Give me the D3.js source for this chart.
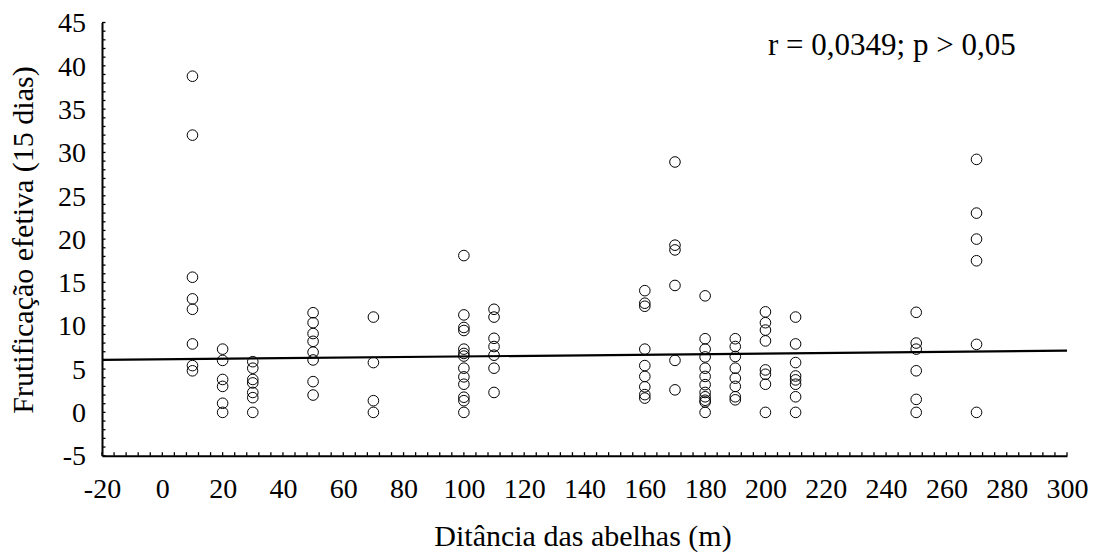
<!DOCTYPE html>
<html>
<head>
<meta charset="utf-8">
<script src="https://cdn.jsdelivr.net/npm/d3@7"></script>
<style>
  html, body { margin: 0; padding: 0; background: #fff; }
  svg { display: block; }
  text { font-family: "Liberation Serif", "Times New Roman", serif; fill: #000; }
</style>
</head>
<body>
<svg id="chart" width="1094" height="559"></svg>
<script>
// ---- data ----
const distances = [10, 20, 30, 50, 70, 100, 110, 160, 170, 180, 190, 200, 210, 250, 270];
const fruitSet = [
  [38.8, 32.0, 15.6, 13.1, 11.9, 7.9, 5.4, 4.8],
  [7.3, 6.0, 3.8, 3.0, 1.05, 0],
  [5.85, 5.1, 3.8, 3.4, 2.3, 1.7, 0],
  [11.5, 10.35, 9.1, 8.2, 6.95, 6.05, 3.55, 2.0],
  [11.0, 5.75, 1.35, 0],
  [18.1, 11.25, 9.8, 9.45, 7.3, 6.8, 6.5, 5.1, 4.1, 3.25, 1.75, 1.35, 0],
  [11.9, 11.0, 8.55, 7.6, 6.6, 5.1, 2.3],
  [14.05, 12.6, 12.25, 7.3, 5.4, 4.15, 2.95, 2.05, 1.65],
  [28.9, 19.3, 18.75, 14.65, 6.0, 2.6],
  [13.45, 8.5, 7.3, 6.4, 5.1, 4.15, 3.2, 2.3, 1.8, 1.4, 1.2, 0],
  [8.5, 7.6, 6.45, 5.1, 3.95, 3.0, 1.8, 1.45],
  [11.6, 10.35, 9.5, 8.25, 4.9, 4.4, 3.25, 0],
  [11.0, 7.9, 5.75, 4.2, 3.75, 3.25, 1.8, 0],
  [11.55, 8.0, 7.3, 4.8, 1.5, 0],
  [29.2, 23.0, 20.0, 17.5, 7.85, 0]
];
const trendIntercept = 6.12;
const trendSlope = 0.00335;
const xTickValues = [-20, 0, 20, 40, 60, 80, 100, 120, 140, 160, 180, 200, 220, 240, 260, 280, 300];
const yTickValues = [-5, 0, 5, 10, 15, 20, 25, 30, 35, 40, 45];
const xTitle = "Ditância das abelhas (m)";
const yTitle = "Frutificação efetiva (15 dias)";
const annotation = "r = 0,0349; p > 0,05";

// ---- layout ----
const FONT = '"Liberation Serif", "Times New Roman", serif';
const svg = d3.select("#chart");
const plotLeft = 102, plotRight = 1067, plotTop = 22.5, plotBottom = 455.7;
const x = d3.scaleLinear().domain([-20, 300]).range([plotLeft, plotRight]);
const y = d3.scaleLinear().domain([-5, 45]).range([plotBottom, plotTop]);

const points = [];
distances.forEach((d, i) => fruitSet[i].forEach(v => points.push({d, v})));

// minor ticks (inside)
const xMinor = d3.range(-20, 300.01, 4);
const yMinor = d3.range(-5, 45.01, 1);
svg.append("g").selectAll("line").data(xMinor).join("line")
  .attr("x1", d => x(d)).attr("x2", d => x(d))
  .attr("y1", plotBottom).attr("y2", plotBottom - 3.5)
  .attr("stroke", "#000").attr("stroke-width", 1.3);
svg.append("g").selectAll("line").data(yMinor).join("line")
  .attr("y1", d => y(d)).attr("y2", d => y(d))
  .attr("x1", plotLeft).attr("x2", plotLeft + 3.5)
  .attr("stroke", "#000").attr("stroke-width", 1.3);

// axes via d3 axis (no tick lines; labels only)
const xAxis = d3.axisBottom(x).tickValues(xTickValues).tickSize(0).tickPadding(0).tickFormat(d => String(d));
const gx = svg.append("g").attr("transform", `translate(0,${plotBottom})`).call(xAxis)
  .attr("font-family", FONT).attr("font-size", 28);
gx.select(".domain").attr("stroke", "#000").attr("stroke-width", 2);
gx.selectAll("text").attr("dy", null).attr("y", 42).style("font-family", FONT).style("font-size", "28px");

const yAxis = d3.axisLeft(y).tickValues(yTickValues).tickSize(0).tickPadding(16).tickFormat(d => String(d));
const gy = svg.append("g").attr("transform", `translate(${plotLeft},0)`).call(yAxis)
  .attr("font-family", FONT).attr("font-size", 28);
gy.select(".domain").attr("stroke", "#000").attr("stroke-width", 2);
gy.selectAll("text").attr("dy", "0.33em").style("font-family", FONT).style("font-size", "28px");

// trend line
const trend = [-20, 300].map(d => ({d, v: trendIntercept + trendSlope * d}));
svg.append("path")
  .datum(trend)
  .attr("d", d3.line().x(p => x(p.d)).y(p => y(p.v)))
  .attr("stroke", "#000").attr("stroke-width", 2.2).attr("fill", "none");

// points
svg.append("g").selectAll("circle").data(points).join("circle")
  .attr("cx", p => x(p.d)).attr("cy", p => y(p.v)).attr("r", 5.3)
  .attr("fill", "none").attr("stroke", "#000").attr("stroke-width", 1);

// titles
svg.append("text").attr("x", 583).attr("y", 546).attr("text-anchor", "middle")
  .style("font-size", "30px").text(xTitle);
svg.append("text").attr("transform", "translate(33,240) rotate(-90)")
  .attr("text-anchor", "middle").style("font-size", "30px").text(yTitle);
svg.append("text").attr("x", 768).attr("y", 55).style("font-size", "31px").text(annotation);
</script>
</body>
</html>
